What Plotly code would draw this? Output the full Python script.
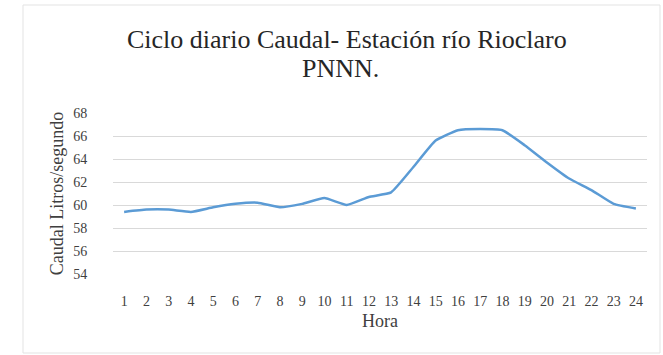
import plotly.graph_objects as go

horas = list(range(1, 25))
caudal = [59.4, 59.6, 59.6, 59.4, 59.8, 60.1, 60.2, 59.8, 60.1, 60.6, 60.0, 60.7,
          61.1, 63.3, 65.6, 66.5, 66.6, 66.5, 65.2, 63.7, 62.3, 61.3, 60.1, 59.7]
y_ticks = [54, 56, 58, 60, 62, 64, 66, 68]
title_lines = ["Ciclo diario Caudal- Estación río Rioclaro", "PNNN."]

FONT = "Liberation Serif"

fig = go.Figure()
fig.add_trace(go.Scatter(
    x=horas, y=caudal, mode="lines",
    line=dict(color="#5B9BD5", width=2.5, shape="spline", smoothing=0.4),
    hoverinfo="skip", showlegend=False,
))

fig.update_layout(
    width=663, height=355,
    margin=dict(l=113, r=16, t=113, b=81),
    paper_bgcolor="white", plot_bgcolor="white",
    xaxis=dict(
        range=[0.5, 24.5], tickvals=horas, ticktext=[str(h) for h in horas],
        showgrid=False, zeroline=False, showline=False,
        tickfont=dict(family=FONT, size=14, color="#404040"),
        ticks="outside", ticklen=14, tickcolor="rgba(0,0,0,0)",
        title=dict(text="Hora", font=dict(family=FONT, size=18, color="#404040"), standoff=6),
    ),
    yaxis=dict(
        range=[54, 68], tickvals=y_ticks,
        showgrid=True, gridcolor="#D9D9D9", gridwidth=1,
        zeroline=False, showline=False,
        tickfont=dict(family=FONT, size=14, color="#404040"),
        ticks="outside", ticklen=22, tickcolor="rgba(0,0,0,0)",
        title=dict(text="Caudal Litros/segundo", font=dict(family=FONT, size=18, color="#404040"), standoff=4),
    ),
    annotations=[
        dict(text=title_lines[0], xref="paper", yref="paper", x=(347 - 113) / 534, y=(274 - 40) / 161,
             xanchor="center", yanchor="middle", showarrow=False,
             font=dict(family=FONT, size=26, color="#262626")),
        dict(text=title_lines[1], xref="paper", yref="paper", x=(340 - 113) / 534, y=(274 - 69) / 161,
             xanchor="center", yanchor="middle", showarrow=False,
             font=dict(family=FONT, size=26, color="#262626")),
    ],
    shapes=[dict(type="rect", xref="paper", yref="paper",
                 x0=(23 - 113) / 534, x1=(660 - 113) / 534,
                 y0=(274 - 353) / 161, y1=(274 - 5) / 161,
                 line=dict(color="#E3E3E3", width=1), layer="below")],
)

fig.write_html("out.html")
